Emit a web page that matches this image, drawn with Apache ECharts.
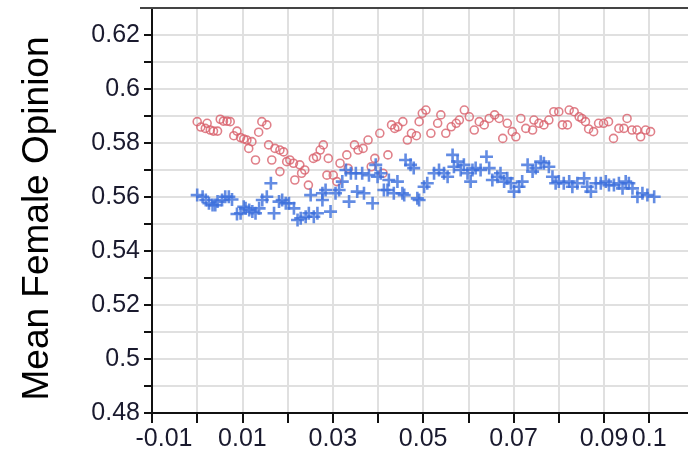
<!DOCTYPE html>
<html>
<head>
<meta charset="utf-8">
<script src="https://cdn.jsdelivr.net/npm/echarts@6/dist/echarts.min.js"></script>
<style>
  html, body { margin: 0; padding: 0; background: #fff; }
  #chart { width: 688px; height: 465px; }
</style>
</head>
<body>
<div id="chart"></div>
<script>
// Circle series (red, hollow markers)
const circleX = [0.0000,0.0008,0.0018,0.0022,0.0029,0.0036,0.0045,0.0051,0.0058,0.0066,0.0073,0.0081,0.0088,0.0096,0.0103,0.0110,0.0114,0.0121,0.0129,0.0136,0.0143,0.0154,0.0158,0.0165,0.0172,0.0183,0.0183,0.0191,0.0198,0.0205,0.0213,0.0216,0.0227,0.0231,0.0238,0.0246,0.0257,0.0264,0.0272,0.0279,0.0287,0.0290,0.0301,0.0309,0.0316,0.0331,0.0334,0.0348,0.0356,0.0367,0.0378,0.0385,0.0393,0.0404,0.0411,0.0422,0.0430,0.0437,0.0444,0.0455,0.0465,0.0474,0.0485,0.0491,0.0498,0.0506,0.0517,0.0532,0.0539,0.0550,0.0562,0.0573,0.0580,0.0591,0.0602,0.0613,0.0624,0.0635,0.0646,0.0658,0.0668,0.0676,0.0686,0.0697,0.0705,0.0716,0.0727,0.0742,0.0745,0.0756,0.0767,0.0778,0.0789,0.0800,0.0808,0.0819,0.0823,0.0834,0.0845,0.0851,0.0859,0.0866,0.0877,0.0888,0.0899,0.0910,0.0921,0.0933,0.0944,0.0951,0.0962,0.0973,0.0981,0.0992,0.1003];
const circleY = [0.5879,0.5859,0.5854,0.5873,0.5848,0.5844,0.5844,0.5888,0.5881,0.5881,0.5879,0.5827,0.5844,0.5820,0.5815,0.5811,0.5780,0.5805,0.5737,0.5840,0.5879,0.5867,0.5793,0.5737,0.5780,0.5774,0.5694,0.5767,0.5731,0.5737,0.5725,0.5663,0.5719,0.5688,0.5700,0.5644,0.5743,0.5749,0.5774,0.5793,0.5681,0.5743,0.5681,0.5657,0.5725,0.5756,0.5706,0.5793,0.5774,0.5780,0.5811,0.5712,0.5743,0.5836,0.5688,0.5756,0.5867,0.5854,0.5860,0.5879,0.5811,0.5836,0.5827,0.5879,0.5910,0.5922,0.5836,0.5873,0.5904,0.5836,0.5860,0.5873,0.5885,0.5922,0.5897,0.5848,0.5879,0.5867,0.5891,0.5904,0.5891,0.5817,0.5873,0.5842,0.5823,0.5891,0.5854,0.5848,0.5885,0.5873,0.5867,0.5885,0.5916,0.5916,0.5867,0.5867,0.5922,0.5916,0.5897,0.5891,0.5879,0.5852,0.5842,0.5873,0.5873,0.5879,0.5817,0.5854,0.5854,0.5891,0.5848,0.5848,0.5823,0.5848,0.5842];

// Cross series (blue, plus markers)
const crossX = [0.0000,0.0012,0.0019,0.0026,0.0034,0.0040,0.0045,0.0055,0.0062,0.0070,0.0077,0.0088,0.0096,0.0103,0.0107,0.0115,0.0122,0.0129,0.0137,0.0144,0.0154,0.0163,0.0170,0.0181,0.0188,0.0196,0.0203,0.0214,0.0222,0.0229,0.0240,0.0247,0.0251,0.0258,0.0266,0.0277,0.0277,0.0284,0.0295,0.0306,0.0314,0.0321,0.0329,0.0336,0.0340,0.0351,0.0354,0.0365,0.0369,0.0380,0.0388,0.0395,0.0399,0.0406,0.0413,0.0421,0.0424,0.0435,0.0443,0.0454,0.0458,0.0461,0.0472,0.0479,0.0487,0.0491,0.0502,0.0509,0.0524,0.0535,0.0546,0.0554,0.0565,0.0568,0.0576,0.0583,0.0590,0.0598,0.0605,0.0609,0.0616,0.0627,0.0640,0.0646,0.0653,0.0664,0.0671,0.0679,0.0686,0.0694,0.0701,0.0712,0.0719,0.0731,0.0742,0.0749,0.0760,0.0767,0.0778,0.0786,0.0793,0.0800,0.0811,0.0823,0.0830,0.0841,0.0856,0.0863,0.0871,0.0882,0.0893,0.0904,0.0911,0.0922,0.0933,0.0941,0.0948,0.0955,0.0963,0.0974,0.0985,0.0996,0.1011];
const crossY = [0.5607,0.5601,0.5589,0.5577,0.5570,0.5570,0.5583,0.5589,0.5601,0.5601,0.5591,0.5537,0.5540,0.5564,0.5558,0.5552,0.5546,0.5540,0.5558,0.5589,0.5601,0.5651,0.5540,0.5583,0.5589,0.5577,0.5577,0.5558,0.5515,0.5521,0.5527,0.5540,0.5607,0.5527,0.5540,0.5614,0.5589,0.5626,0.5546,0.5614,0.5626,0.5657,0.5700,0.5583,0.5688,0.5688,0.5620,0.5688,0.5614,0.5681,0.5577,0.5719,0.5675,0.5688,0.5626,0.5626,0.5663,0.5614,0.5657,0.5614,0.5607,0.5737,0.5719,0.5707,0.5595,0.5589,0.5638,0.5651,0.5688,0.5700,0.5688,0.5675,0.5756,0.5712,0.5731,0.5700,0.5719,0.5688,0.5657,0.5700,0.5707,0.5700,0.5749,0.5707,0.5663,0.5675,0.5688,0.5657,0.5669,0.5651,0.5620,0.5638,0.5657,0.5719,0.5694,0.5707,0.5731,0.5725,0.5712,0.5675,0.5651,0.5657,0.5651,0.5657,0.5638,0.5651,0.5669,0.5638,0.5620,0.5651,0.5651,0.5657,0.5644,0.5644,0.5651,0.5632,0.5657,0.5651,0.5632,0.5601,0.5614,0.5607,0.5601];

// Axis ranges and which tick values carry a label
const xRange = { min: -0.01, max: 0.12, step: 0.01 };
const yRange = { min: 0.48, max: 0.63, step: 0.01 };
const xLabelled = ['-0.01', '0.01', '0.03', '0.05', '0.07', '0.09', '0.1'];
const yLabelled = ['0.48', '0.5', '0.52', '0.54', '0.56', '0.58', '0.6', '0.62'];
const yTitle = 'Mean Female Opinion';

const pairs = (xs, ys) => xs.map((x, i) => [x, ys[i]]);
const fmt = v => String(Math.round(v * 100) / 100);

const FONT = "'Liberation Sans', Arial, sans-serif";
const gridLine = { show: true, lineStyle: { color: '#e0e0e0', width: 2 } };

// x labels: the first one is nudged right, off the axis corner
const xLabel = v => {
  const s = fmt(v);
  if (!xLabelled.includes(s)) return '';
  return s === xLabelled[0] ? '{first|' + s + '}' : s;
};

const chart = echarts.init(document.getElementById('chart'), null, { renderer: 'canvas' });
chart.setOption({
  animation: false,
  backgroundColor: '#ffffff',
  grid: { left: 152, top: 8, width: 587.6, height: 405, containLabel: false, outerBoundsMode: 'none' },
  xAxis: {
    type: 'value',
    min: xRange.min, max: xRange.max, interval: xRange.step,
    axisLine: { show: true, onZero: false, lineStyle: { color: '#111', width: 2 } },
    axisTick: { show: true, length: 10, lineStyle: { color: '#111', width: 2 } },
    axisLabel: {
      margin: 14,
      color: '#1a1a2e',
      fontSize: 25,
      fontFamily: FONT,
      formatter: xLabel,
      rich: {
        first: { fontSize: 25, fontFamily: FONT, color: '#1a1a2e', padding: [0, 0, 0, 24] }
      }
    },
    splitLine: gridLine
  },
  yAxis: {
    type: 'value',
    min: yRange.min, max: yRange.max, interval: yRange.step,
    name: yTitle,
    nameLocation: 'middle',
    nameRotate: 90,
    nameGap: 96,
    nameTextStyle: { fontSize: 37, color: '#000', fontFamily: FONT, padding: [0, 16, 0, 0] },
    axisLine: { show: true, onZero: false, lineStyle: { color: '#111', width: 2 } },
    axisTick: { show: true, length: 8, lineStyle: { color: '#111', width: 2 } },
    axisLabel: {
      margin: 12,
      color: '#1a1a2e',
      fontSize: 25,
      fontFamily: FONT,
      formatter: v => (yLabelled.includes(fmt(v)) ? fmt(v) : '')
    },
    splitLine: gridLine
  },
  graphic: [{
    type: 'line',
    shape: { x1: 140, y1: 8, x2: 688, y2: 8 },
    style: { stroke: '#444', lineWidth: 2 },
    z: 10
  }],
  series: [
    {
      name: 'circles',
      type: 'scatter',
      data: pairs(circleX, circleY),
      symbol: 'circle',
      symbolSize: 8,
      itemStyle: { color: 'rgba(255,255,255,0)', borderColor: '#d8606b', borderWidth: 1.6 },
      z: 3
    },
    {
      name: 'crosses',
      type: 'scatter',
      data: pairs(crossX, crossY),
      symbol: 'path://M4,0H6V4H10V6H6V10H4V6H0V4H4Z',
      symbolSize: 13,
      itemStyle: { color: '#3c6fdc' },
      z: 4
    }
  ]
});
</script>
</body>
</html>
